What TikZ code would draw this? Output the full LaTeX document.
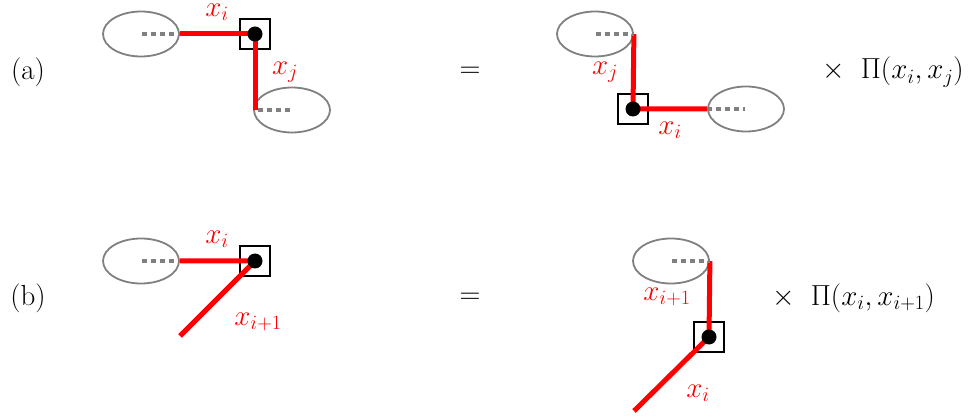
\RequirePackage{fix-cm}
\documentclass[tikz,border=0pt]{standalone}
\usetikzlibrary{shapes.geometric}
\begin{document}
\begin{tikzpicture}[x=1pt,y=-1pt,
  oval/.style={draw=gray,line width=1.8pt,ellipse,minimum width=76pt,minimum height=45pt,inner sep=0pt},
  vbox/.style={draw=black,line width=1.1pt,minimum size=30pt,inner sep=0pt},
  vdot/.style={fill=black,circle,minimum size=15pt,inner sep=0pt},
  leg/.style={red,line width=5pt},
  dots/.style={gray,line width=4pt,dash pattern=on 5pt off 4pt},
  lab/.style={text=red,font=\fontsize{29}{34}\selectfont,inner sep=0pt},
  txt/.style={font=\fontsize{29}{34}\selectfont,inner sep=0pt}]
\useasboundingbox (0,0) rectangle (976,419);
% ---- (a) left
\node[txt] (la) at (28,72) {(a)};
\node[oval] (a1) at (141,34) {};
\node[oval] (a2) at (292,110) {};
\node[vbox] (ab) at (255,34) {};
\coordinate (ak) at (255,110);
\draw[leg] (a1.east) -- (ab.center) -- (ak);
\node[vdot] (ad) at (255,34) {};
\draw[dots] (142,34) -- (a1.east);
\draw[dots] (258,110) -- (292,110);
\node[lab] (axi) at (217,12) {$x_i$};
\node[lab] (axj) at (285,72) {$x_j$};
\node[txt] (eqa) at (470,72) {$=$};
% ---- (a) right
\node[oval] (a3) at (595,34) {};
\node[oval] (a4) at (746,109) {};
\node[vbox] (ab2) at (633,109) {};
\draw[leg] (a3.east) -- (ab2.center) -- (a4.west);
\node[vdot] (ad2) at (633,109) {};
\draw[dots] (596,34) -- (a3.east);
\draw[dots] (a4.west) -- (745,109);
\node[lab] (axj2) at (605,72) {$x_j$};
\node[lab] (axi2) at (670,130) {$x_i$};
\node[txt,anchor=west] (pa) at (822,72) {$\times\;\;\Pi(x_i,x_j)$};
% ---- (b) left
\node[txt] (lb) at (28,298) {(b)};
\node[oval] (b1) at (141,261) {};
\node[vbox] (bb) at (255,261) {};
\coordinate (bk) at (180,336);
\draw[leg] (b1.east) -- (bb.center) -- (bk);
\node[vdot] (bd) at (255,261) {};
\draw[dots] (142,261) -- (b1.east);
\node[lab] (bxi) at (217,239) {$x_i$};
\node[lab] (bxi1) at (258,322) {$x_{i+1}$};
\node[txt] (eqb) at (470,298) {$=$};
% ---- (b) right
\node[oval] (b2) at (671,261) {};
\node[vbox] (bb2) at (709,337) {};
\coordinate (bk2) at (634,411);
\draw[leg] (b2.east) -- (bb2.center) -- (bk2);
\node[vdot] (bd2) at (709,337) {};
\draw[dots] (672,261) -- (b2.east);
\node[lab] (bxi12) at (667,297) {$x_{i+1}$};
\node[lab] (bxi2) at (698,393) {$x_i$};
\node[txt,anchor=west] (pb) at (772,298) {$\times\;\;\Pi(x_i,x_{i+1})$};
\end{tikzpicture}
\end{document}
